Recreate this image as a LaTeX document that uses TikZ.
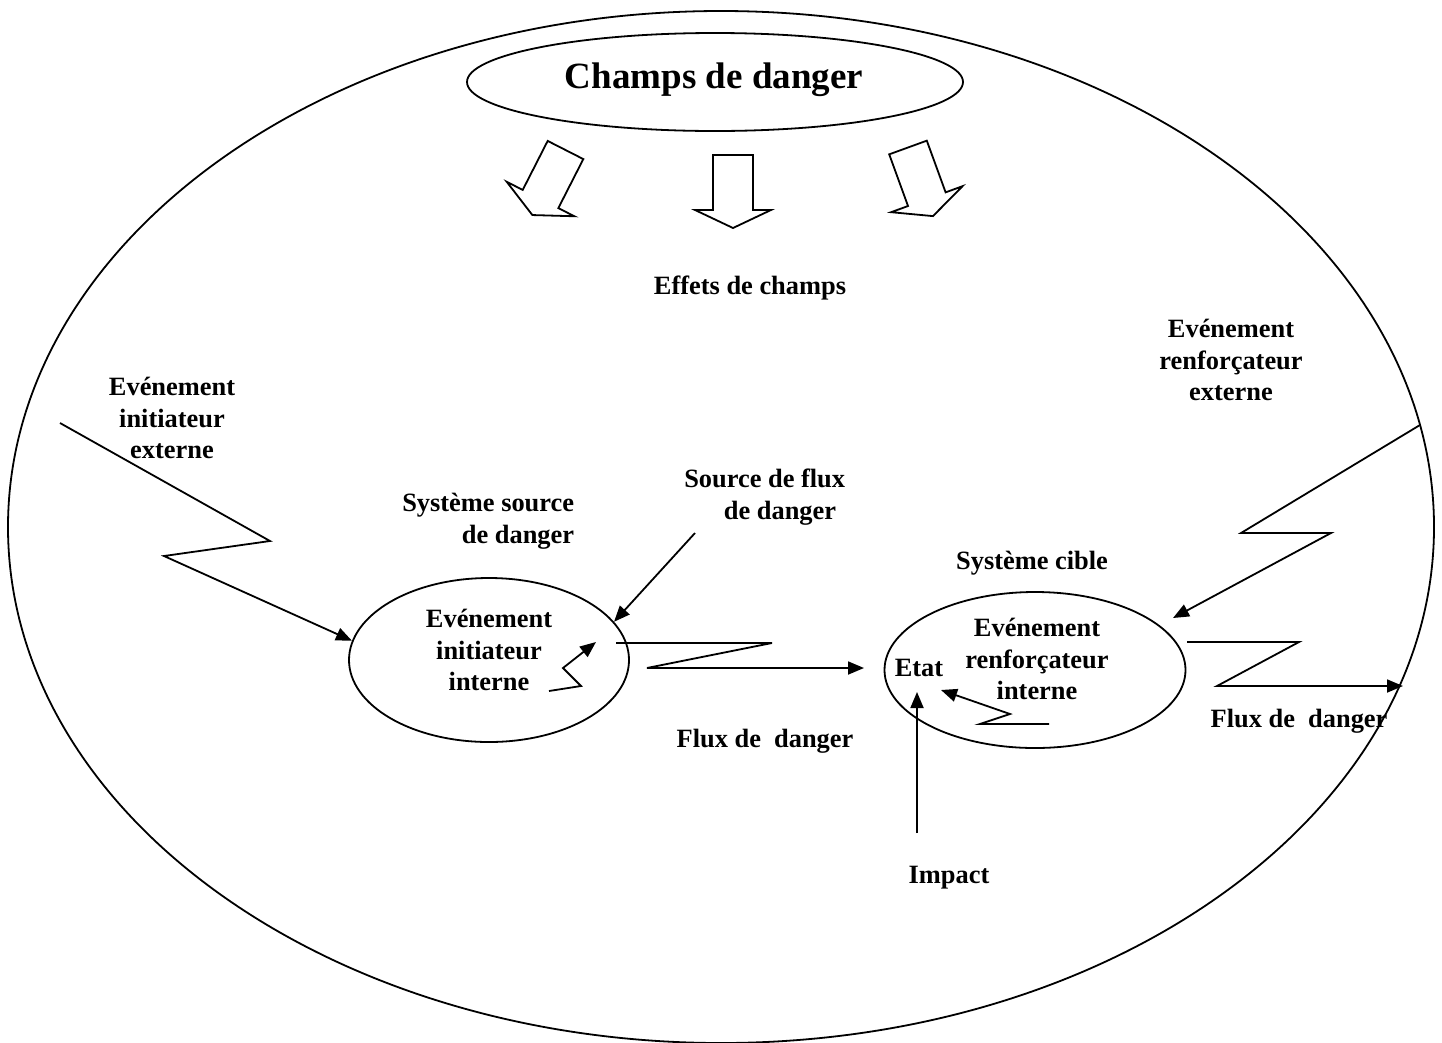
\documentclass[tikz,border=0pt]{standalone}
\usepackage{fontspec}
\setmainfont{Liberation Serif}
\usetikzlibrary{arrows.meta,shapes.geometric}
\begin{document}
\begin{tikzpicture}[x=1pt,y=-1pt,
  line width=1.8pt,
  lbl/.style={font=\fontsize{26.4}{31.6}\selectfont\bfseries, inner sep=0pt, align=center},
  oval/.style={draw, ellipse, inner sep=0pt},
  flow/.style={-{Triangle[length=16pt,width=13pt]}, line join=miter},
  bigarrow/.style={draw, fill=white, line join=miter},
]
\useasboundingbox (0,0) rectangle (1442,1042);

% outer boundary of the whole system
\node[oval, minimum width=1426pt, minimum height=1032pt] (world) at (721,527) {};

% danger field and its three effect arrows
\node[oval, minimum width=496pt, minimum height=98pt] (field) at (715,82) {};
\node[font=\fontsize{37}{44}\selectfont\bfseries, inner sep=0pt] (fieldtxt) at (714,80) {Champs de danger};
\foreach \px/\py/\ang in {565.5/150/-27, 733/155/0, 908/147.5/20}{
  \draw[bigarrow, shift={(\px,\py)}, rotate=\ang]
    (-20,0) -- (20,0) -- (20,55) -- (38,55) -- (0,73) -- (-38,55) -- (-20,55) -- cycle;
}
\node[lbl] (effets) at (750,288) {Effets de champs};

% source system
\node[oval, minimum width=280pt, minimum height=164pt] (srcsys) at (489,660) {};
\node[lbl] (srcev) at (489,650) {Evénement\\initiateur\\interne};
\node[lbl, align=right, anchor=east] (srcname) at (575,521) {Système source\\de danger};
\node[lbl, align=right, anchor=east] (srcflux) at (846,497) {Source de flux\\de danger\hspace*{9pt}};

% target system
\node[oval, minimum width=301pt, minimum height=156pt] (tgtsys) at (1035,670) {};
\node[lbl] (tgtev) at (1037,659) {Evénement\\renforçateur\\interne};
\node[lbl] (tgtname) at (1032,563) {Système cible};
\node[lbl] (etat) at (919,668) {Etat};

% external events
\node[lbl] (extinit) at (172,418) {Evénement\\initiateur\\externe};
\node[lbl] (extrenf) at (1231,360) {Evénement\\renforçateur\\externe};

% flows and impact labels
\node[lbl] (flux1) at (765,741) {Flux de~ danger};
\node[lbl] (flux2) at (1299,721) {Flux de~ danger};
\node[lbl] (impact) at (949,878) {Impact};

% connector end points
\coordinate (extinitTail) at (60,423);
\coordinate (srcfluxTail) at (695,533);
\coordinate (intTail) at (549,691);
\coordinate (intHead) at (596,642);
\coordinate (flux1Tail) at (616,643);
\coordinate (flux1Head) at (864,668);
\coordinate (extrenfTail) at (1420,425);
\coordinate (extrenfHead) at (1173,618);
\coordinate (renfTail) at (1049,724);
\coordinate (renfHead) at (941,690);
\coordinate (impactTail) at (917,833);
\coordinate (impactHead) at (917,692);
\coordinate (flux2Tail) at (1187,642);
\coordinate (flux2Head) at (1403,686);

% external initiating event (lightning)
\draw[flow] (extinitTail) -- (270,541) -- (164,556) -- (srcsys.172);
% source of danger flow
\draw[flow] (srcfluxTail) -- (srcsys.17);
% internal initiating event
\draw[flow] (intTail) -- (581,686) -- (563,668) -- (intHead);
% danger flow between the two systems
\draw[flow] (flux1Tail) -- (772,643) -- (647,668) -- (flux1Head);
% external reinforcing event
\draw[flow] (extrenfTail) -- (1241,533) -- (1331,533) -- (extrenfHead);
% internal reinforcing event
\draw[flow] (renfTail) -- (980,724) -- (1010,714) -- (renfHead);
% impact on the state
\draw[flow] (impactTail) -- (impactHead);
% outgoing danger flow
\draw[flow] (flux2Tail) -- (1299,642) -- (1217,686) -- (flux2Head);
\end{tikzpicture}
\end{document}
